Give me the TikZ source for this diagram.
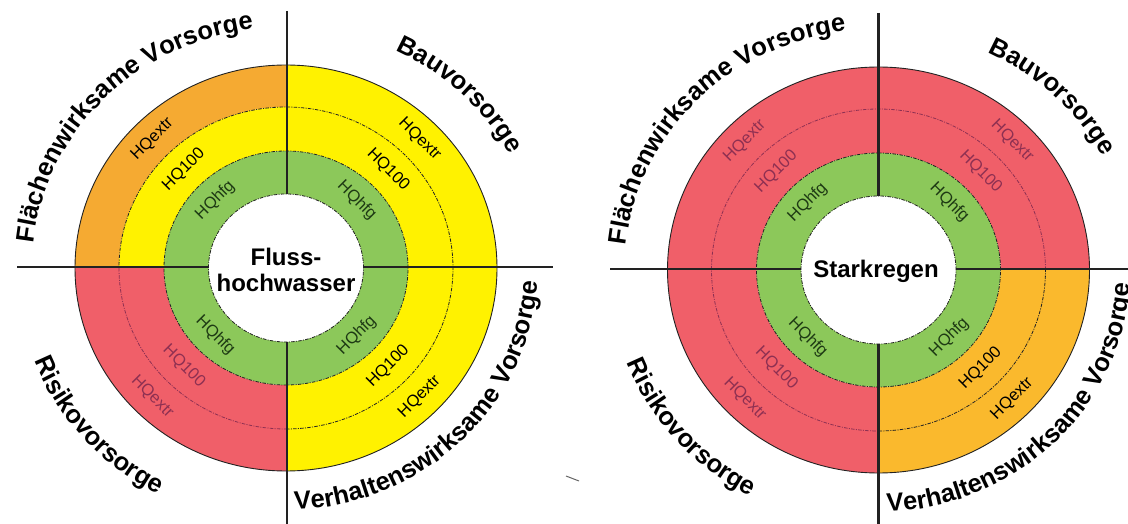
\documentclass[tikz,border=0pt]{standalone}
\usepackage{fontspec}
\setmainfont{Liberation Sans}
\usetikzlibrary{decorations.text}
\definecolor{cyel}{HTML}{FFF200}
\definecolor{corL}{HTML}{F5AA32}
\definecolor{corR}{HTML}{FAB92D}
\definecolor{cred}{HTML}{F05F69}
\definecolor{cgrn}{HTML}{8CC85A}
\definecolor{cline}{HTML}{222222}
\definecolor{cpink}{HTML}{8E3052}
\definecolor{cgtxt}{HTML}{1E3A14}
\newcommand\bigfont{\bfseries\fontsize{25.5}{28}\selectfont}
\newcommand\hqfont{\fontsize{16.5}{16.5}\selectfont}
\newcommand\centfont{\bfseries\fontsize{24}{26}\selectfont}
% \sector{a1}{a2}{rix}{riy}{rox}{roy}{color}
\newcommand\sector[7]{\fill[#7] (#1:#5pt and #6pt) arc[start angle=#1, end angle=#2, x radius=#5pt, y radius=#6pt] -- (#2:#3pt and #4pt) arc[start angle=#2, end angle=#1, x radius=#3pt, y radius=#4pt] -- cycle;}
% \qarc{a1}{a2}{rx}{ry}{style}
\newcommand\qarc[5]{\draw[#5] (#1:#3pt and #4pt) arc[start angle=#1, end angle=#2, x radius=#3pt, y radius=#4pt];}
\tikzset{
  outerline/.style={draw=cline, line width=0.9pt},
  dashline/.style={line width=0.8pt, dash pattern=on 3.5pt off 1.3pt on 1pt off 1.3pt},
  crossline/.style={draw=cline, line width=2.3pt},
  hq/.style={font=\hqfont, inner sep=0pt},
  bigtext/.style={decorate, decoration={text along path, text align=center, text={|\bigfont|#1}}},
}
\begin{document}
\begin{tikzpicture}[x=1pt,y=1pt]
\fill[white] (0,0) rectangle (1128,523);
\useasboundingbox (0,0) rectangle (1128,523);

%================ LEFT ==================
\begin{scope}[shift={(286,255)}]
  \sector{90}{180}{167}{161}{211}{203}{corL}
  \sector{90}{180}{122}{117}{167}{161}{cyel}
  \sector{0}{90}{122}{117}{211}{203}{cyel}
  \sector{270}{360}{122}{117}{211}{203}{cyel}
  \sector{180}{270}{122}{117}{211}{203}{cred}
  \fill[cgrn, even odd rule] (0,0) ellipse[x radius=122pt, y radius=117pt] (0,0) ellipse[x radius=77.5pt, y radius=74pt];
  \draw[outerline] (0,0) ellipse[x radius=211pt, y radius=203pt];
  \qarc{-90}{180}{167}{161}{dashline, cline}
  \qarc{180}{270}{167}{161}{dashline, cpink}
  \draw[dashline, cline] (0,0) ellipse[x radius=122pt, y radius=117pt];
  \draw[dashline, cline] (0,0) ellipse[x radius=77.5pt, y radius=74pt];
  \coordinate (Lw) at (-269,1); \coordinate (Lwi) at (-77.5,1);
  \coordinate (Le) at (267,1);  \coordinate (Lei) at (77.5,1);
  \coordinate (Ln) at (1,257);  \coordinate (Lni) at (1,74);
  \coordinate (Ls) at (1,-256); \coordinate (Lsi) at (1,-74);
  \draw[crossline] (Lw) -- (Lwi);
  \draw[crossline] (Lei) -- (Le);
  \draw[crossline] (Ln) -- (Lni);
  \draw[crossline] (Lsi) -- (Ls);
  % ring labels
  \node[hq, rotate=45]  (L1) at (135:189pt and 182pt) {HQextr};
  \node[hq, rotate=45]  (L2) at (135:144.5pt and 139pt) {HQ100};
  \node[hq, rotate=45, text=cgtxt]  (L3) at (135:100pt and 95.5pt) {HQhfg};
  \node[hq, rotate=-45] (L4) at (45:189pt and 182pt) {HQextr};
  \node[hq, rotate=-45] (L5) at (45:144.5pt and 139pt) {HQ100};
  \node[hq, rotate=-45, text=cgtxt] (L6) at (45:100pt and 95.5pt) {HQhfg};
  \node[hq, rotate=-45, text=cpink] (L7) at (225:189pt and 182pt) {HQextr};
  \node[hq, rotate=-45, text=cpink] (L8) at (225:144.5pt and 139pt) {HQ100};
  \node[hq, rotate=-45, text=cgtxt] (L9) at (225:100pt and 95.5pt) {HQhfg};
  \node[hq, rotate=45] (L10) at (315:189pt and 182pt) {HQextr};
  \node[hq, rotate=45] (L11) at (315:144.5pt and 139pt) {HQ100};
  \node[hq, rotate=45, text=cgtxt] (L12) at (315:100pt and 95.5pt) {HQhfg};
  \node[font=\centfont, align=center, inner sep=0pt] (Lc) at (0,-1.5) {Fluss-\\hochwasser};
  % outer labels
  \path[bigtext={Flächenwirksame Vorsorge}] (186:254pt and 241pt) arc[start angle=186, end angle=86, x radius=254pt, y radius=241pt];
  \path[bigtext={Bauvorsorge}] (81:254pt and 241pt) arc[start angle=81, end angle=11, x radius=254pt, y radius=241pt];
  \path[bigtext={Risikovorsorge}] (181:270pt and 257pt) arc[start angle=181, end angle=261, x radius=270pt, y radius=257pt];
  \path[bigtext={Verhaltenswirksame Vorsorge}] (264.5:252pt and 242pt) arc[start angle=264.5, end angle=364.5, x radius=252pt, y radius=242pt];
\end{scope}

%================ RIGHT ==================
\begin{scope}[shift={(878.5,253)}]
  \sector{0}{270}{122}{117}{211}{203}{cred}
  \sector{270}{360}{122}{117}{211}{203}{corR}
  \fill[cgrn, even odd rule] (0,0) ellipse[x radius=122pt, y radius=117pt] (0,0) ellipse[x radius=77.5pt, y radius=74pt];
  \draw[outerline] (0,0) ellipse[x radius=211pt, y radius=203pt];
  \qarc{0}{270}{167}{161}{dashline, cpink}
  \qarc{270}{360}{167}{161}{dashline, cline}
  \draw[dashline, cline] (0,0) ellipse[x radius=122pt, y radius=117pt];
  \draw[dashline, cline] (0,0) ellipse[x radius=77.5pt, y radius=74pt];
  \coordinate (Rw) at (-268.5,1); \coordinate (Rwi) at (-77.5,1);
  \coordinate (Re) at (252,1);    \coordinate (Rei) at (77.5,1);
  \coordinate (Rn) at (0,257);    \coordinate (Rni) at (0,74);
  \coordinate (Rs) at (0,-254);   \coordinate (Rsi) at (0,-74);
  \draw[crossline] (Rw) -- (Rwi);
  \draw[crossline] (Rei) -- (Re);
  \draw[crossline] (Rn) -- (Rni);
  \draw[crossline] (Rsi) -- (Rs);
  \node[hq, rotate=45, text=cpink]  (R1) at (135:189pt and 182pt) {HQextr};
  \node[hq, rotate=45, text=cpink]  (R2) at (135:144.5pt and 139pt) {HQ100};
  \node[hq, rotate=45, text=cgtxt]  (R3) at (135:100pt and 95.5pt) {HQhfg};
  \node[hq, rotate=-45, text=cpink] (R4) at (45:189pt and 182pt) {HQextr};
  \node[hq, rotate=-45, text=cpink] (R5) at (45:144.5pt and 139pt) {HQ100};
  \node[hq, rotate=-45, text=cgtxt] (R6) at (45:100pt and 95.5pt) {HQhfg};
  \node[hq, rotate=-45, text=cpink] (R7) at (225:189pt and 182pt) {HQextr};
  \node[hq, rotate=-45, text=cpink] (R8) at (225:144.5pt and 139pt) {HQ100};
  \node[hq, rotate=-45, text=cgtxt] (R9) at (225:100pt and 95.5pt) {HQhfg};
  \node[hq, rotate=45] (R10) at (315:189pt and 182pt) {HQextr};
  \node[hq, rotate=45] (R11) at (315:144.5pt and 139pt) {HQ100};
  \node[hq, rotate=45, text=cgtxt] (R12) at (315:100pt and 95.5pt) {HQhfg};
  \node[font=\centfont, inner sep=0pt] (Rc) at (-2.5,-1) {Starkregen};
  \path[bigtext={Flächenwirksame Vorsorge}] (186:254pt and 241pt) arc[start angle=186, end angle=86, x radius=254pt, y radius=241pt];
  \path[bigtext={Bauvorsorge}] (81:254pt and 241pt) arc[start angle=81, end angle=11, x radius=254pt, y radius=241pt];
  \path[bigtext={Risikovorsorge}] (181:270pt and 257pt) arc[start angle=181, end angle=261, x radius=270pt, y radius=257pt];
  \path[bigtext={Verhaltenswirksame Vorsorge}] (264.5:252pt and 242pt) arc[start angle=264.5, end angle=364.5, x radius=252pt, y radius=242pt];
\end{scope}

% small scan mark between the diagrams
\coordinate (m1) at (566,47); \coordinate (m2) at (579,42);
\draw[cline!70, line width=1pt] (m1) -- (m2);
\end{tikzpicture}
\end{document}
